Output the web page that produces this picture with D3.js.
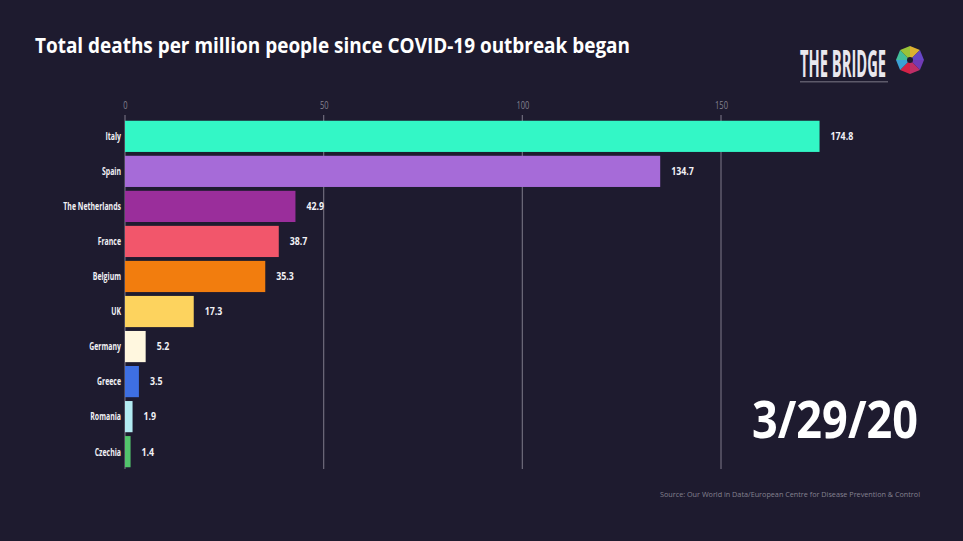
<!DOCTYPE html>
<html>
<head>
<meta charset="utf-8">
<script src="https://cdn.jsdelivr.net/npm/d3@7"></script>
<style>
  html, body { margin: 0; padding: 0; background: #1e1b2f; }
  svg { display: block; }
</style>
</head>
<body>
<div id="chart"></div>
<script>
// data
var countries = ['Italy', 'Spain', 'The Netherlands', 'France', 'Belgium', 'UK', 'Germany', 'Greece', 'Romania', 'Czechia'];
var deaths = [174.8, 134.7, 42.9, 38.7, 35.3, 17.3, 5.2, 3.5, 1.9, 1.4];
var barColors = ['#33f7c6', '#a66bd8', '#9a2e9b', '#f2566b', '#f27d0e', '#fdd35e', '#fff7df', '#3e6fe2', '#b3ebf2', '#52c46c'];
var xTicks = [0, 50, 100, 150];
var dateLabel = '3/29/20';

var W = 963, H = 541;
var FONT = '"Open Sans", "Noto Sans", sans-serif';

var svg = d3.select('#chart').append('svg')
    .attr('width', W)
    .attr('height', H);

svg.append('rect').attr('width', W).attr('height', H).attr('fill', '#1e1b2f');

// squeeze text horizontally to imitate the condensed face of the original
function condense(sel, k) {
    sel.each(function() {
        var w = this.getComputedTextLength();
        d3.select(this).attr('textLength', w * k).attr('lengthAdjust', 'spacingAndGlyphs');
    });
}

// title
svg.append('text')
    .attr('x', 35).attr('y', 53)
    .attr('fill', '#ffffff')
    .style('font-family', FONT)
    .style('font-weight', 'bold')
    .style('font-size', '22px')
    .attr('textLength', 595)
    .attr('lengthAdjust', 'spacingAndGlyphs')
    .text('Total deaths per million people since COVID-19 outbreak began');

var x = d3.scaleLinear().domain([0, 150]).range([125, 721]);
var y = d3.scaleBand().domain(countries).range([119, 469]).paddingInner(0.11).paddingOuter(0.05);

// grid lines
var grid = svg.append('g');
grid.selectAll('line').data(xTicks).enter().append('line')
    .attr('x1', function(d) { return x(d); })
    .attr('x2', function(d) { return x(d); })
    .attr('y1', 115).attr('y2', 469)
    .attr('stroke', '#6f6c7c')
    .attr('stroke-width', 1.2);

// tick labels
var axis = d3.axisTop(x).tickValues(xTicks).tickSize(0).tickPadding(0);
var ax = svg.append('g').attr('transform', 'translate(0,109)').call(axis);
ax.select('.domain').remove();
ax.selectAll('text')
    .attr('fill', '#85828f')
    .style('font-family', FONT)
    .style('font-size', '10px')
    .call(condense, 0.75);

// bars
svg.append('g').selectAll('rect').data(countries).enter().append('rect')
    .attr('x', x(0))
    .attr('y', function(d) { return y(d); })
    .attr('width', function(d, i) { return x(deaths[i]) - x(0); })
    .attr('height', y.bandwidth())
    .attr('fill', function(d, i) { return barColors[i]; });

// category labels
svg.append('g').selectAll('text').data(countries).enter().append('text')
    .attr('x', x(0) - 4)
    .attr('y', function(d) { return y(d) + y.bandwidth() / 2; })
    .attr('dy', '0.35em')
    .attr('text-anchor', 'end')
    .attr('fill', '#f2f1f5')
    .style('font-family', FONT)
    .style('font-weight', 'bold')
    .style('font-size', '11px')
    .text(function(d) { return d; })
    .call(condense, 0.63);

// value labels
svg.append('g').selectAll('text').data(countries).enter().append('text')
    .attr('x', function(d, i) { return x(deaths[i]) + 11; })
    .attr('y', function(d) { return y(d) + y.bandwidth() / 2; })
    .attr('dy', '0.35em')
    .attr('fill', '#f2f1f5')
    .style('font-family', FONT)
    .style('font-weight', 'bold')
    .style('font-size', '11px')
    .text(function(d, i) { return deaths[i].toFixed(1); })
    .call(condense, 0.8);

// date
svg.append('text')
    .attr('x', 918).attr('y', 438)
    .attr('text-anchor', 'end')
    .attr('fill', '#ffffff')
    .style('font-family', FONT)
    .style('font-weight', 'bold')
    .style('font-size', '52px')
    .attr('textLength', 166)
    .attr('lengthAdjust', 'spacingAndGlyphs')
    .text(dateLabel);

// source
svg.append('text')
    .attr('x', 920).attr('y', 497)
    .attr('text-anchor', 'end')
    .attr('fill', '#85828f')
    .style('font-family', FONT)
    .style('font-size', '8px')
    .attr('textLength', 260)
    .attr('lengthAdjust', 'spacingAndGlyphs')
    .text('Source: Our World in Data/European Centre for Disease Prevention & Control');

// logo
var logo = svg.append('g');
logo.append('text')
    .attr('x', 800).attr('y', 77)
    .attr('fill', '#e9e8ee')
    .style('font-family', FONT)
    .style('font-weight', 'bold')
    .style('font-size', '38px')
    .attr('textLength', 86)
    .attr('lengthAdjust', 'spacingAndGlyphs')
    .text('THE BRIDGE');
logo.append('rect')
    .attr('x', 800).attr('y', 81).attr('width', 88).attr('height', 1.5)
    .attr('fill', '#5d5a6a');
var cx = 910, cy = 60;
var petals = ['#7a3fc4', '#d0316e', '#e8244a', '#3fb0e8', '#46d0a5', '#a7d63a', '#f1c232', '#6f4bd8'];
logo.selectAll('path').data(petals).enter().append('path')
    .attr('d', function(d, i) {
        var a0 = i * Math.PI / 4, a1 = a0 + Math.PI / 4;
        var r = 14;
        return 'M' + cx + ',' + cy +
            'L' + (cx + r * Math.cos(a0)) + ',' + (cy + r * Math.sin(a0)) +
            'L' + (cx + r * Math.cos(a1)) + ',' + (cy + r * Math.sin(a1)) + 'Z';
    })
    .attr('fill', function(d) { return d; })
    .attr('opacity', 0.9);
logo.append('circle').attr('cx', cx).attr('cy', cy).attr('r', 3).attr('fill', '#1e1b2f');
</script>
</body>
</html>
